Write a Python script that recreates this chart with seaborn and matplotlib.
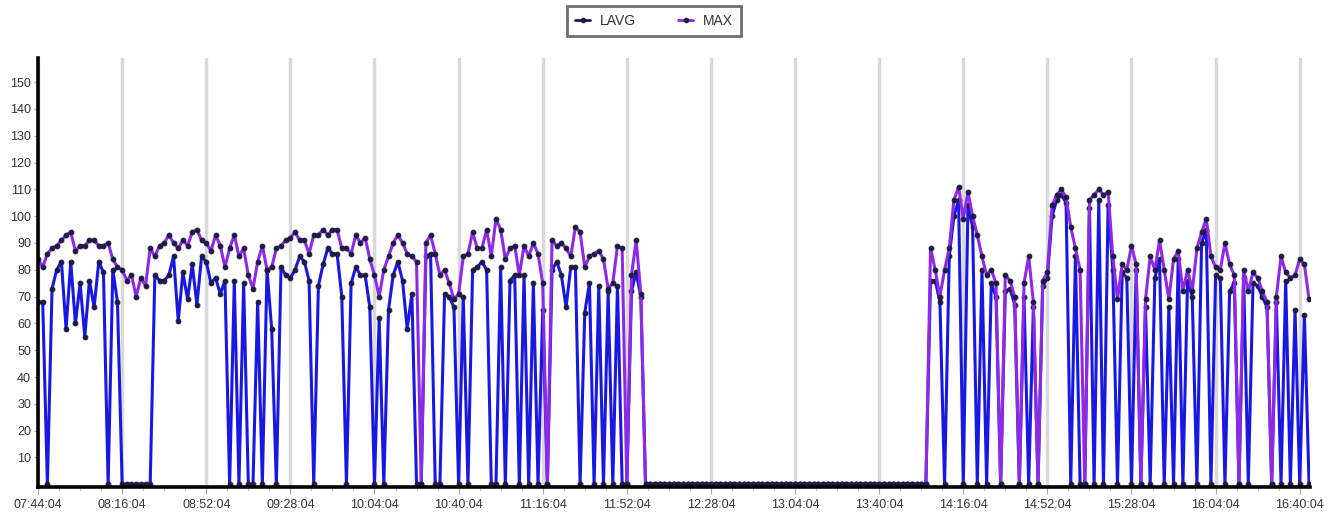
import numpy as np
import pandas as pd
import seaborn as sns
import matplotlib
matplotlib.use('Agg')
import matplotlib.pyplot as plt
from matplotlib.lines import Line2D

# readings every ~2 minutes, 07:44:04 -> 16:44
max_morning = [84, 81, 86, 88, 89, 91, 93, 94, 87, 89,
               89, 91, 91, 89, 89, 90, 84, 81, 80, 76,
               78, 70, 77, 74, 88, 85, 89, 90, 93, 90,
               88, 91, 89, 94, 95, 91, 90, 87, 93, 89,
               81, 88, 93, 85, 88, 78, 73, 83, 89, 80,
               81, 88, 89, 91, 92, 94, 91, 91, 86, 93,
               93, 95, 93, 95, 95, 88, 88, 86, 93, 90,
               92, 84, 78, 70, 80, 85, 90, 93, 90, 86,
               85, 83, 0, 90, 93, 86, 78, 80, 75, 69,
               71, 85, 86, 94, 88, 88, 95, 85, 99, 95,
               84, 88, 89, 78, 89, 85, 90, 86, 75, 0,
               91, 89, 90, 88, 85, 96, 94, 81, 85, 86,
               87, 84, 73, 75, 89, 88, 0, 78, 91, 71,
               0, 0]
lavg_morning = [68, 68, 0, 73, 80, 83, 58, 83, 60, 75,
                55, 76, 66, 83, 79, 0, 80, 68, 0, 0,
                0, 0, 0, 0, 0, 78, 76, 76, 78, 85,
                61, 79, 69, 82, 67, 85, 83, 75, 77, 71,
                76, 0, 76, 0, 75, 0, 0, 68, 0, 80,
                58, 0, 81, 78, 77, 80, 85, 83, 76, 0,
                74, 82, 88, 86, 86, 70, 0, 75, 81, 78,
                78, 66, 0, 62, 0, 65, 78, 83, 76, 58,
                71, 0, 0, 85, 86, 0, 0, 71, 70, 66,
                0, 70, 0, 80, 81, 83, 80, 0, 0, 81,
                0, 76, 78, 0, 78, 0, 75, 0, 65, 0,
                80, 83, 78, 66, 81, 81, 0, 64, 75, 0,
                74, 0, 72, 0, 74, 0, 0, 72, 79, 70,
                0, 0]
idle_midday = [0, 0, 0, 0, 0, 0, 0, 0, 0, 0,
               0, 0, 0, 0, 0, 0, 0, 0, 0, 0,
               0, 0, 0, 0, 0, 0, 0, 0, 0, 0,
               0, 0, 0, 0, 0, 0, 0, 0, 0, 0,
               0, 0, 0, 0, 0, 0, 0, 0, 0, 0,
               0, 0, 0, 0, 0, 0, 0, 0]
max_afternoon = [0, 88, 80, 70, 80, 88, 106, 111, 99, 109,
                 100, 93, 85, 78, 80, 75, 0, 78, 76, 70,
                 0, 75, 85, 68, 0, 76, 79, 104, 108, 110,
                 107, 96, 88, 80, 0, 106, 108, 110, 108, 109,
                 85, 69, 82, 80, 89, 82, 0, 69, 85, 80,
                 91, 80, 69, 84, 87, 72, 80, 72, 88, 94,
                 99, 85, 81, 80, 90, 82, 78, 0, 80, 72,
                 79, 77, 72, 68, 0, 70, 85, 79, 77, 78,
                 84, 82, 69]
lavg_afternoon = [0, 76, 76, 68, 0, 85, 100, 106, 0, 104,
                  96, 0, 80, 0, 75, 70, 0, 72, 73, 67,
                  0, 70, 0, 66, 0, 74, 77, 100, 106, 108,
                  105, 0, 85, 0, 0, 103, 0, 106, 0, 104,
                  80, 0, 79, 77, 0, 80, 0, 66, 0, 77,
                  84, 0, 66, 0, 84, 0, 76, 70, 0, 90,
                  95, 0, 78, 77, 0, 72, 75, 0, 77, 0,
                  75, 74, 70, 66, 0, 68, 0, 76, 0, 65,
                  0, 63, 0]

tick_labels = ['07:44:04', '08:16:04', '08:52:04', '09:28:04', '10:04:04',
               '10:40:04', '11:16:04', '11:52:04', '12:28:04', '13:04:04',
               '13:40:04', '14:16:04', '14:52:04', '15:28:04', '16:04:04',
               '16:40:04']

max_vals = max_morning + idle_midday + max_afternoon
lavg_vals = lavg_morning + idle_midday + lavg_afternoon
df = pd.DataFrame({'t': np.arange(len(max_vals)), 'LAVG': lavg_vals, 'MAX': max_vals})

sns.set_style('white')
plt.rcParams['font.family'] = ['Liberation Sans', 'DejaVu Sans']

blue = '#1818e0'
purple = '#8e2ae4'
dot = '#1e1b44'

fig = plt.figure(figsize=(13.44, 5.23), dpi=100)
ax = fig.add_axes([0.0283, 0.069, 0.9464, 0.82])

sns.lineplot(data=df, x='t', y='LAVG', ax=ax, color=blue, linewidth=2.2,
             marker='o', markersize=3.4, markerfacecolor=dot, markeredgecolor=dot,
             zorder=3)
sns.lineplot(data=df, x='t', y='MAX', ax=ax, color=purple, linewidth=2.2,
             marker='o', markersize=3.4, markerfacecolor=dot, markeredgecolor=dot,
             zorder=4)

ax.set_xlim(0, 272.2)
ax.set_ylim(-1, 159)
ax.set_xticks(np.arange(0, 271, 18))
ax.set_xticklabels(tick_labels)
ax.set_xticks(np.arange(0, 272, 4.5), minor=True)
ax.set_yticks(range(10, 160, 10))
ax.set_xlabel('')
ax.set_ylabel('')

ax.grid(axis='x', which='major', color='#d9d9d9', linewidth=2.5, zorder=0)
ax.grid(axis='y', visible=False)
ax.tick_params(axis='x', which='major', length=5, color='#aaaaaa', labelsize=9,
               labelcolor='#333333', pad=4, bottom=True)
ax.tick_params(axis='x', which='minor', length=3, color='#bbbbbb', bottom=True)
ax.tick_params(axis='y', length=3, color='#aaaaaa', labelsize=9,
               labelcolor='#333333', pad=2, left=True)

for side in ['top', 'right']:
    ax.spines[side].set_visible(False)
for side in ['left', 'bottom']:
    ax.spines[side].set_color('black')
    ax.spines[side].set_linewidth(2.6)
    ax.spines[side].set_zorder(5)

handles = [Line2D([0], [0], color=dot, linewidth=2, marker='o', markersize=3),
           Line2D([0], [0], color=purple, linewidth=2, marker='o', markersize=3,
                  markerfacecolor=dot, markeredgecolor=dot)]
if ax.get_legend():
    ax.get_legend().remove()
leg = fig.legend(handles, ['LAVG', 'MAX'], loc='center', ncol=2,
                 bbox_to_anchor=(0.4866, 0.96), fontsize=10, frameon=True,
                 fancybox=False, handlelength=1.1, handletextpad=0.7,
                 columnspacing=3.0, borderpad=0.6, borderaxespad=0)
leg.get_frame().set_edgecolor('#4a4a4a')
leg.get_frame().set_linewidth(2)
for t in leg.get_texts():
    t.set_color('#333333')

fig.savefig('out.png', dpi=100)
plt.close(fig)
